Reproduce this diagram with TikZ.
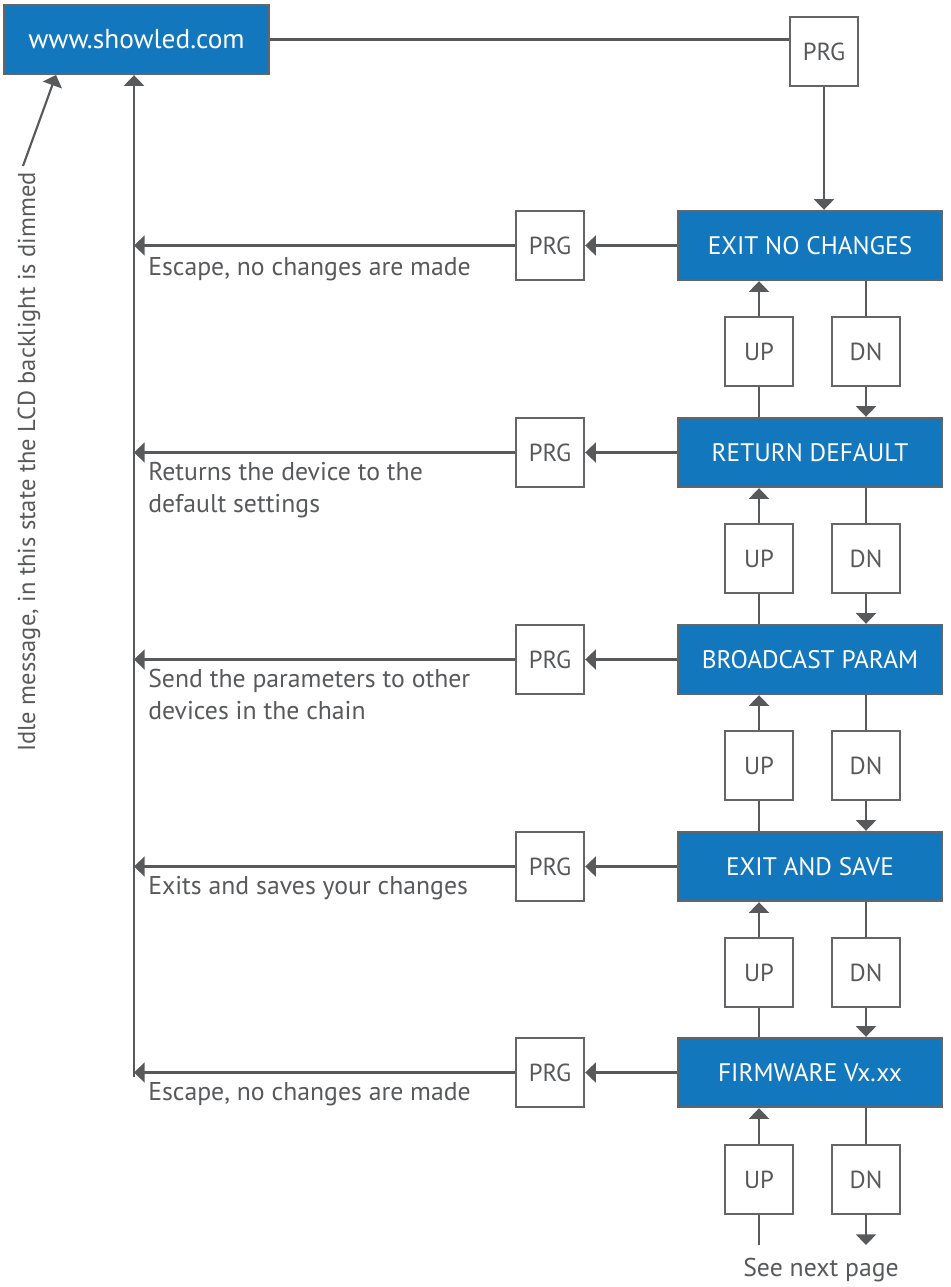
\documentclass[tikz,border=0pt]{standalone}
\usepackage{fontspec}
\setmainfont{PT Sans}
\usetikzlibrary{arrows.meta,positioning}
\definecolor{ledblue}{RGB}{19,119,190}
\definecolor{linegray}{RGB}{88,89,91}
\definecolor{boxgray}{RGB}{100,101,104}

\begin{document}
\begin{tikzpicture}[x=0.75pt,y=-0.75pt,
  menu/.style={rectangle, draw=boxgray, line width=1.8pt, fill=ledblue, text=white,
               minimum width=198pt, minimum height=51.75pt, inner sep=0pt,
               font=\fontsize{19}{22}\selectfont},
  key/.style={rectangle, draw=boxgray, line width=1.8pt, fill=white, text=linegray,
              minimum width=51pt, minimum height=51.75pt, inner sep=0pt,
              font=\fontsize{18.5}{22}\selectfont},
  note/.style={anchor=north west, inner sep=0pt, align=left, text=linegray,
               font=\fontsize{19.3}{24}\selectfont},
  arr/.style={-{Triangle[length=8pt,width=15pt]}, line width=1.6pt, draw=linegray},
  ln/.style={line width=1.6pt, draw=linegray},
]
  \useasboundingbox (0,0) rectangle (950,1287);

  % idle state
  \node[menu, minimum width=198.75pt, font=\fontsize{20.5}{22}\selectfont] (home) at (136.5,39.5) {www.showled.com};
  \node[key] (prg0) at (824,51.5) {PRG};
  \node[rotate=90, inner sep=0pt, text=linegray, font=\fontsize{18.4}{22}\selectfont]
    (idle) at (29,462) {Idle message, in this state the LCD backlight is dimmed};
  \coordinate (idletip) at (23,166);
  \coordinate (idlein) at (56,75);

  % menu entries
  \node[menu] (enc) at (810,245.5) {EXIT NO CHANGES};
  \node[menu] (rd)  at (810,452.5) {RETURN DEFAULT};
  \node[menu] (bp)  at (810,659.5) {BROADCAST PARAM};
  \node[menu] (eas) at (810,866.5) {EXIT AND SAVE};
  \node[menu] (fw)  at (810,1072.5) {FIRMWARE Vx.xx};

  % up / down keys
  \node[key] (up1) at (759,351.5) {UP};   \node[key] (dn1) at (866,351.5) {DN};
  \node[key] (up2) at (759,558.5) {UP};   \node[key] (dn2) at (866,558.5) {DN};
  \node[key] (up3) at (759,765.5) {UP};   \node[key] (dn3) at (866,765.5) {DN};
  \node[key] (up4) at (759,972.5) {UP};   \node[key] (dn4) at (866,972.5) {DN};
  \node[key] (up5) at (759,1179.5) {UP};  \node[key] (dn5) at (866,1179.5) {DN};
  \coordinate (upend) at (759,1245);
  \coordinate (dnend) at (866,1245);
  \node[text=linegray, font=\fontsize{19.3}{22}\selectfont] (next) at (821,1270) {See next page};

  % prg keys
  \node[key] (prg1) at (550,245.5) {PRG};
  \node[key] (prg2) at (550,452.5) {PRG};
  \node[key] (prg3) at (550,659.5) {PRG};
  \node[key] (prg4) at (550,866.5) {PRG};
  \node[key] (prg5) at (550,1072.5) {PRG};
  \coordinate (back) at (134,1077);

  % notes
  \node[note] (n1) at (148,257) {Escape, no changes are made};
  \node[note] (n2) at (148,462) {Returns the device to the\\default settings};
  \node[note] (n3) at (148,669) {Send the parameters to other\\devices in the chain};
  \node[note] (n4) at (148,876) {Exits and saves your changes};
  \node[note] (n5) at (148,1082) {Escape, no changes are made};

  % connectors
  \draw[ln] (home.east) -- (home.east -| prg0.west);
  \draw[arr] (prg0.south) -- (prg0.south |- enc.north);
  \draw[arr] (idletip) -- (idlein);
  \draw[arr] (back) -- (back |- home.south);

  \draw[arr] (enc.west) -- (prg1.east);  \draw[arr] (prg1.west) -- (prg1.west -| back);
  \draw[arr] (rd.west)  -- (prg2.east);  \draw[arr] (prg2.west) -- (prg2.west -| back);
  \draw[arr] (bp.west)  -- (prg3.east);  \draw[arr] (prg3.west) -- (prg3.west -| back);
  \draw[arr] (eas.west) -- (prg4.east);  \draw[arr] (prg4.west) -- (prg4.west -| back);
  \draw[arr] (fw.west)  -- (prg5.east);  \draw[arr] (prg5.west) -- (prg5.west -| back);

  \draw[arr] (up1.north) -- (up1.north |- enc.south);  \draw[ln] (rd.north -| up1)  -- (up1.south);
  \draw[ln] (dn1.north |- enc.south) -- (dn1.north);   \draw[arr] (dn1.south) -- (dn1.south |- rd.north);
  \draw[arr] (up2.north) -- (up2.north |- rd.south);   \draw[ln] (bp.north -| up2)  -- (up2.south);
  \draw[ln] (dn2.north |- rd.south) -- (dn2.north);    \draw[arr] (dn2.south) -- (dn2.south |- bp.north);
  \draw[arr] (up3.north) -- (up3.north |- bp.south);   \draw[ln] (eas.north -| up3) -- (up3.south);
  \draw[ln] (dn3.north |- bp.south) -- (dn3.north);    \draw[arr] (dn3.south) -- (dn3.south |- eas.north);
  \draw[arr] (up4.north) -- (up4.north |- eas.south);  \draw[ln] (fw.north -| up4)  -- (up4.south);
  \draw[ln] (dn4.north |- eas.south) -- (dn4.north);   \draw[arr] (dn4.south) -- (dn4.south |- fw.north);
  \draw[arr] (up5.north) -- (up5.north |- fw.south);   \draw[ln] (upend) -- (up5.south);
  \draw[ln] (dn5.north |- fw.south) -- (dn5.north);    \draw[arr] (dn5.south) -- (dnend);
\end{tikzpicture}
\end{document}
